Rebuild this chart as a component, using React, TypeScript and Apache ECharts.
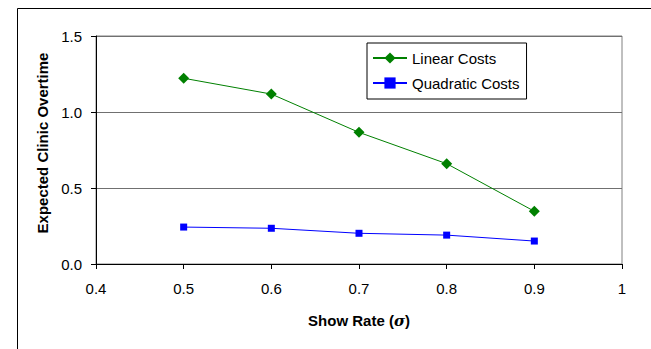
import React, { useEffect, useRef } from "react";
import * as echarts from "echarts";

// Show rate values along the x axis
const showRates = [0.5, 0.6, 0.7, 0.8, 0.9];
// Expected clinic overtime for each cost model
const linearCosts = [1.222, 1.118, 0.866, 0.66, 0.347];
const quadraticCosts = [0.243, 0.235, 0.202, 0.19, 0.151];

const seriesNames = ["Linear Costs", "Quadratic Costs"];

const FONT = "'Liberation Sans', Arial, sans-serif";

export default function App() {
  const ref = useRef<HTMLDivElement>(null);

  useEffect(() => {
    if (!ref.current) return;
    const chart = echarts.init(ref.current, undefined, { renderer: "svg" });

    const toPairs = (vals: number[]) => showRates.map((x, i) => [x, vals[i]]);

    chart.setOption({
      animation: false,
      backgroundColor: "#ffffff",
      textStyle: { fontFamily: FONT },
      grid: {
        left: 96,
        top: 36,
        right: 29,
        bottom: 85,
        show: true,
        borderColor: "#808080",
        borderWidth: 1,
        containLabel: false,
      },
      graphic: [
        {
          type: "rect",
          shape: { x: 17.5, y: 8.5, width: 800, height: 500 },
          style: { fill: "none", stroke: "#000000", lineWidth: 1 },
          silent: true,
          z: -1,
        },
      ],
      legend: {
        orient: "vertical",
        left: 367,
        top: 43,
        padding: [7, 7, 8, 5],
        itemGap: 9,
        itemWidth: 34,
        itemHeight: 14,
        borderColor: "#000000",
        borderWidth: 1,
        backgroundColor: "#ffffff",
        textStyle: { fontFamily: FONT, fontSize: 15, lineHeight: 16, color: "#000000" },
        data: seriesNames,
      },
      xAxis: {
        type: "value",
        min: 0.4,
        max: 1,
        interval: 0.1,
        name: "Show Rate ({i|σ})",
        nameLocation: "middle",
        nameGap: 49,
        nameTextStyle: {
          fontFamily: FONT,
          fontSize: 15,
          fontWeight: "bold",
          color: "#000000",
          rich: {
            i: {
              fontFamily: "'DejaVu Serif', serif",
              fontStyle: "italic",
              fontWeight: "bold",
              fontSize: 15,
              color: "#000000",
            },
          },
        },
        axisLine: { show: true, onZero: false, lineStyle: { color: "#000000", width: 1 } },
        axisTick: { show: true, inside: false, length: 5, lineStyle: { color: "#000000" } },
        axisLabel: {
          fontFamily: FONT,
          fontSize: 15,
          color: "#000000",
          margin: 17,
          formatter: (v: number) => (Math.abs(v - 1) < 1e-9 ? "1" : v.toFixed(1)),
        },
        splitLine: { show: false },
      },
      yAxis: {
        type: "value",
        min: 0,
        max: 1.5,
        interval: 0.5,
        name: "Expected Clinic Overtime",
        nameLocation: "middle",
        nameGap: 41,
        nameTextStyle: {
          fontFamily: FONT,
          fontSize: 15,
          fontWeight: "bold",
          color: "#000000",
          padding: [0, 0, 0, 14],
        },
        axisLine: { show: true, onZero: false, lineStyle: { color: "#000000", width: 1 } },
        axisTick: { show: true, inside: false, length: 5, lineStyle: { color: "#000000" } },
        axisLabel: {
          fontFamily: FONT,
          fontSize: 15,
          color: "#000000",
          margin: 14,
          formatter: (v: number) => v.toFixed(1),
        },
        splitLine: { show: true, lineStyle: { color: "#707070", width: 1 } },
      },
      series: [
        {
          name: seriesNames[0],
          type: "line",
          data: toPairs(linearCosts),
          symbol: "diamond",
          symbolSize: 11,
          itemStyle: { color: "#008000" },
          lineStyle: { color: "#008000", width: 1 },
          z: 3,
        },
        {
          name: seriesNames[1],
          type: "line",
          data: toPairs(quadraticCosts),
          symbol: "rect",
          symbolSize: 7,
          itemStyle: { color: "#0000ff" },
          lineStyle: { color: "#0000ff", width: 1 },
          z: 3,
        },
      ],
    });

    return () => chart.dispose();
  }, []);

  return (
    <div
      ref={ref}
      style={{ width: 651, height: 349, position: "absolute", left: 0, top: 0 }}
    />
  );
}
